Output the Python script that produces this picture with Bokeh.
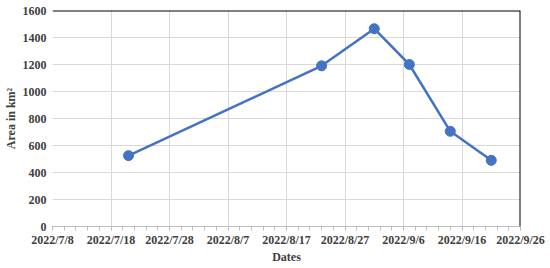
import pandas as pd
from bokeh.plotting import figure
from bokeh.models import FixedTicker, Span, Range1d
from bokeh.embed import file_html
from bokeh.resources import INLINE

dates = ["2022-07-21", "2022-08-23", "2022-09-01", "2022-09-07", "2022-09-14", "2022-09-21"]
areas = [525, 1190, 1465, 1200, 705, 490]
x_tick_dates = ["2022-07-08", "2022-07-18", "2022-07-28", "2022-08-07", "2022-08-17",
                "2022-08-27", "2022-09-06", "2022-09-16", "2022-09-26"]
y_ticks = [0, 200, 400, 600, 800, 1000, 1200, 1400, 1600]

origin = pd.Timestamp(x_tick_dates[0])
xs = [(pd.Timestamp(d) - origin).days for d in dates]
xt = [(pd.Timestamp(d) - origin).days for d in x_tick_dates]
labels = {t: f"{pd.Timestamp(d).year}/{pd.Timestamp(d).month}/{pd.Timestamp(d).day}" for t, d in zip(xt, x_tick_dates)}
minor = list(range(xt[0], xt[-1] + 1, 2))

FONT = "Liberation Serif"
GRID = "#d9d9d9"
BLUE = "#4472C4"
TXT = "#404040"

p = figure(width=546, height=266, output_backend="svg", toolbar_location=None,
           x_range=Range1d(xt[0], xt[-1]), y_range=Range1d(y_ticks[0], y_ticks[-1]),
           min_border_left=52, min_border_right=26, min_border_top=10, min_border_bottom=40)
p.outline_line_color = None
p.background_fill_color = "white"

p.line(xs, areas, line_color=BLUE, line_width=2.5)
p.scatter(xs, areas, size=10, fill_color=BLUE, line_color=BLUE)

p.xaxis.ticker = FixedTicker(ticks=xt, minor_ticks=minor)
p.xaxis.major_label_overrides = labels
p.yaxis.ticker = FixedTicker(ticks=y_ticks)

for ax in (p.xaxis[0], p.yaxis[0]):
    ax.major_label_text_font = FONT
    ax.major_label_text_font_style = "bold"
    ax.major_label_text_font_size = "12px"
    ax.major_label_text_color = TXT
    ax.axis_label_text_font = FONT
    ax.axis_label_text_font_style = "bold"
    ax.axis_label_text_font_size = "12px"
    ax.axis_label_text_color = TXT

p.xaxis.axis_label = "Dates"
p.xaxis.axis_label_standoff = 0
p.xaxis.axis_line_color = "#bfbfbf"
p.xaxis.major_tick_line_color = "#bfbfbf"
p.xaxis.minor_tick_line_color = "#bfbfbf"
p.xaxis.major_tick_out = 4
p.xaxis.major_tick_in = 0
p.xaxis.minor_tick_out = 4
p.xaxis.minor_tick_in = 0
p.xaxis.major_label_standoff = 2

p.yaxis.axis_label = "Area in km²"
p.yaxis.axis_label_standoff = 2
p.yaxis.axis_line_color = None
p.yaxis.major_tick_line_color = None
p.yaxis.minor_tick_line_color = None
p.yaxis.major_tick_out = 0
p.yaxis.major_tick_in = 0
p.yaxis.minor_tick_out = 0
p.yaxis.minor_tick_in = 0
p.yaxis.major_label_standoff = 6

p.xgrid.grid_line_color = GRID
p.ygrid.grid_line_color = GRID
p.xgrid.ticker = FixedTicker(ticks=xt)
p.ygrid.ticker = FixedTicker(ticks=y_ticks)

p.add_layout(Span(location=y_ticks[-1], dimension="width", line_color="black", line_width=2))
p.add_layout(Span(location=xt[-1], dimension="height", line_color="black", line_width=2))

open("out.html", "w").write(file_html(p, INLINE))
